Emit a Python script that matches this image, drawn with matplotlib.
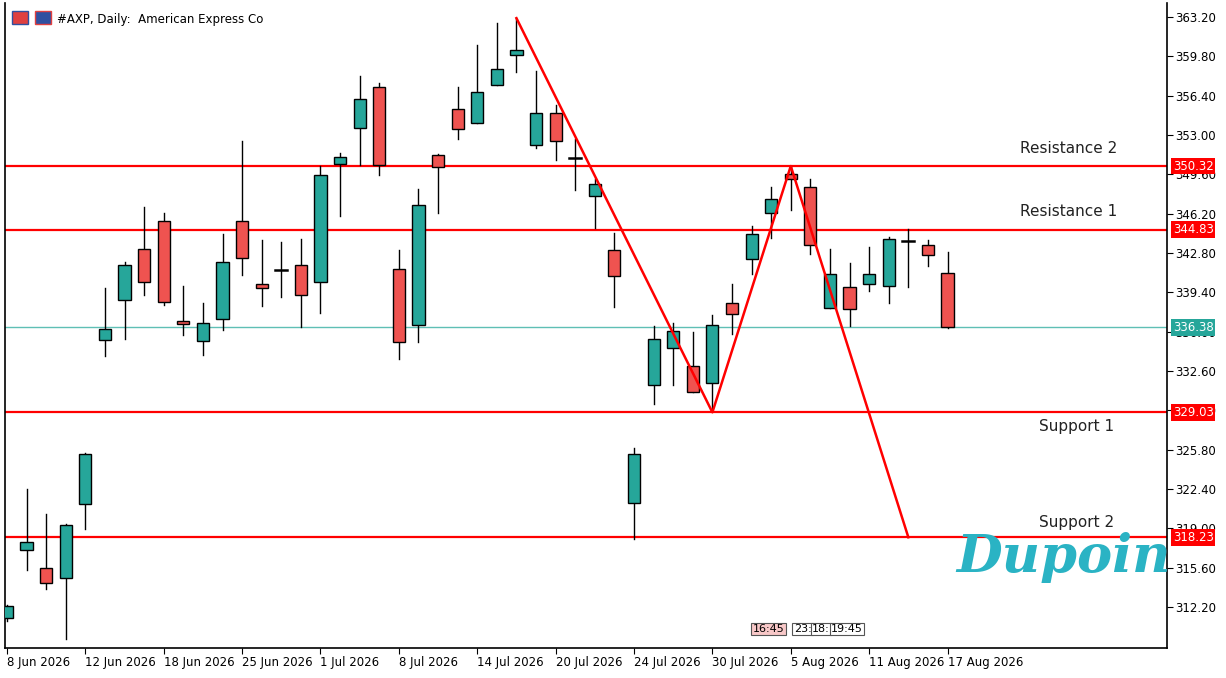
import matplotlib
matplotlib.use("Agg")
import matplotlib.pyplot as plt
from matplotlib.patches import Rectangle

opens = [311.25,317.13,315.57,314.71,321.10,335.28,338.74,343.15,345.57,336.92,335.20,337.10,345.57,340.12,341.33,341.76,340.29,350.49,353.60,357.15,
         341.42,336.58,351.27,355.25,354.04,357.32,359.92,352.14,354.90,351.00,347.73,343.06,321.19,331.39,334.59,333.03,331.56,338.48,342.28,346.26,
         349.63,348.50,338.05,339.86,340.12,339.95,343.84,343.49,341.07]
closes = [312.29,317.82,314.27,319.29,325.43,336.23,341.76,340.29,338.56,336.66,336.75,342.02,342.37,339.77,341.33,339.17,349.54,351.10,356.11,350.40,
          335.11,346.95,350.23,353.52,356.72,358.70,360.35,354.90,352.48,351.00,348.76,340.81,325.43,335.37,336.06,330.78,336.58,337.53,344.44,347.47,
          349.20,343.49,340.98,337.96,340.98,344.00,343.84,342.63,336.38]
highs = [312.40,322.40,320.24,319.40,325.50,339.77,342.02,346.78,346.26,339.95,338.48,344.44,352.48,343.92,343.75,344.00,350.32,351.44,358.10,357.50,
         343.06,348.33,351.36,357.15,360.78,362.68,363.10,358.53,355.60,352.65,349.20,344.53,325.95,336.49,336.75,335.97,337.44,340.12,345.14,348.50,
         350.23,349.20,343.15,341.93,343.32,344.18,344.87,343.92,342.89]
lows = [311.00,315.40,313.76,309.43,318.94,333.90,335.37,339.17,338.30,335.71,333.98,336.14,340.90,338.22,339.00,336.40,337.60,346.00,350.40,349.54,
        333.64,335.11,346.26,352.65,354.04,357.32,358.45,351.88,350.84,348.25,344.96,338.13,318.08,329.75,331.39,330.78,329.23,335.80,340.98,344.10,
        346.52,342.71,338.05,336.49,339.51,338.48,339.86,341.68,336.36]
date_labels = ["8 Jun 2026","12 Jun 2026","18 Jun 2026","25 Jun 2026","1 Jul 2026","8 Jul 2026","14 Jul 2026",
               "20 Jul 2026","24 Jul 2026","30 Jul 2026","5 Aug 2026","11 Aug 2026","17 Aug 2026"]
levels = [350.32, 344.83, 329.03, 318.23]
level_names = ["Resistance 2", "Resistance 1", "Support 1", "Support 2"]
last_price = 336.38
zz_idx = [26, 36, 40, 46]
zz_price = [363.10, 329.03, 350.32, 318.23]
yticks = [363.20,359.80,356.40,353.00,349.60,346.20,342.80,339.40,336.00,332.60,329.20,325.80,322.40,319.00,315.60,312.20]
time_labels = ["16:45", "23:", "18:", "19:45"]

GREEN = "#26a69a"; RED = "#ef5350"; LRED = "#ff0000"
fig = plt.figure(figsize=(12.26, 6.78), dpi=100)
ax = fig.add_axes([5/1226, 30/678, 1162/1226, 645/678])
ax.set_xlim(-0.1, 59.2)
ax.set_ylim(308.66, 364.41)

w = 0.62
for i, (o, c, h, l) in enumerate(zip(opens, closes, highs, lows)):
    ax.plot([i, i], [l, h], color="black", lw=1, zorder=3)
    if abs(c - o) < 0.05:
        ax.plot([i - w/2, i + w/2], [o, o], color="black", lw=1.8, zorder=4)
    else:
        col = GREEN if c > o else RED
        ax.add_patch(Rectangle((i - w/2, min(o, c)), w, abs(c - o), facecolor=col,
                               edgecolor="black", lw=1, zorder=4))

for lv in levels:
    ax.axhline(lv, color=LRED, lw=1.6, zorder=2)
ax.axhline(last_price, color="#5fbfb5", lw=1, zorder=1)
ax.plot(zz_idx, zz_price, color=LRED, lw=1.8, zorder=5)

name_pos = [(54.2, 0.9), (54.2, 0.9), (54.6, -0.6), (54.6, 0.6)]
for lv, nm, (xp, dy) in zip(levels, level_names, name_pos):
    ax.text(xp, lv + dy, nm, fontsize=11, ha="center", va="bottom" if dy > 0 else "top", color="#222222", zorder=6)

ax.yaxis.tick_right()
ax.set_yticks(yticks)
ax.set_yticklabels([f"{v:.2f}" for v in yticks], fontsize=8.5)
ax.set_xticks(range(0, 49, 4))
ax.set_xticklabels(date_labels, fontsize=8.5, ha="left")
ax.tick_params(axis="x", length=4, pad=2)
ax.tick_params(axis="y", length=4, pad=2)
ax.spines["top"].set_visible(False)
for s in ["left", "right", "bottom"]:
    ax.spines[s].set_linewidth(1.2)

for lv in levels:
    ax.text(1.005, lv, f"{lv:.2f}", transform=ax.get_yaxis_transform(), fontsize=8.5, color="white",
            va="center", ha="left", bbox=dict(boxstyle="square,pad=0.15", fc=LRED, ec="none"), zorder=10, clip_on=False)
ax.text(1.005, last_price, f"{last_price:.2f}", transform=ax.get_yaxis_transform(), fontsize=8.5, color="white",
        va="center", ha="left", bbox=dict(boxstyle="square,pad=0.15", fc=GREEN, ec="none"), zorder=10, clip_on=False)

ax.add_patch(Rectangle((0.006, 0.968), 0.014, 0.019, transform=ax.transAxes, fc="#e04040", ec="#3050a0", lw=1, clip_on=False))
ax.add_patch(Rectangle((0.026, 0.968), 0.014, 0.019, transform=ax.transAxes, fc="#3050a0", ec="#e04040", lw=1, clip_on=False))
ax.text(0.045, 0.985, "#AXP, Daily:  American Express Co", transform=ax.transAxes, fontsize=8.5, va="top", ha="left")

for lab, xp, fc in zip(time_labels, [38.05, 40.15, 41.1, 42.05], ["#f8c8c8", "white", "white", "white"]):
    ax.text(xp, 310.3, lab, fontsize=8, ha="left", va="center",
            bbox=dict(boxstyle="square,pad=0.12", fc=fc, ec="#555555", lw=0.8))

ax.text(53.9, 316.5, "Dupoin", fontsize=38, fontstyle="italic", fontweight="bold", color="#2ab3c4",
        ha="center", va="center", family="DejaVu Serif", zorder=7)

fig.savefig("out.png", dpi=100)
